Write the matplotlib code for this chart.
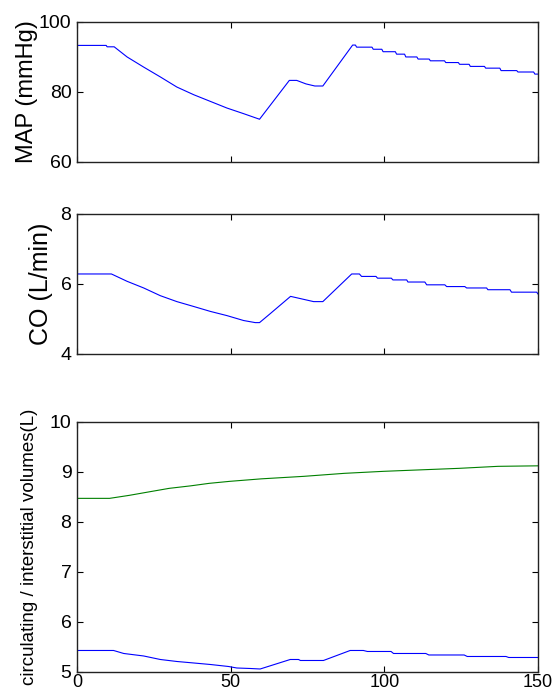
import matplotlib
matplotlib.use("Agg")
import matplotlib.pyplot as plt

plt.rcParams['font.family'] = ['Liberation Sans', 'DejaVu Sans']

# mean arterial pressure (mmHg)
map_t = [0, 9.5, 9.8, 12.1, 16.3, 21.7, 27.1, 32.5, 38, 43.4, 48.8, 54.2, 59.4, 69.1, 71.5, 74.5, 77.4, 80,
         89.7, 90.6, 91, 96, 96.4, 99.2, 99.6, 103.6, 104, 106.6, 107, 110.6, 111, 114.6, 115,
         119.6, 120, 124.1, 124.5, 127.6, 128, 132.6, 133, 137.6, 138, 143.1, 143.5, 148.6, 149, 150]
map_v = [93.3, 93.3, 92.9, 92.9, 90.0, 87.1, 84.3, 81.4, 79.2, 77.3, 75.4, 73.8, 72.2, 83.3, 83.3, 82.3, 81.7, 81.7,
         93.4, 93.4, 92.8, 92.8, 92.2, 92.2, 91.5, 91.5, 90.8, 90.8, 90.0, 90.0, 89.4, 89.4, 88.9,
         88.9, 88.4, 88.4, 87.9, 87.9, 87.3, 87.3, 86.8, 86.8, 86.1, 86.1, 85.7, 85.7, 85.1, 85.1]

# cardiac output (L/min)
co_t = [0, 11.2, 16.3, 21.7, 27.1, 32.5, 38, 43.4, 48.8, 54.2, 58, 59.4, 62.8, 69.5, 73, 77, 80,
        89.4, 91.9, 92.6, 97.3, 97.8, 102.3, 102.8, 107.3, 107.7, 113.2, 113.8, 119.7,
        120.3, 126.2, 126.8, 133.3, 133.7, 140.9, 141.4, 149.6, 150]
co_v = [6.28, 6.28, 6.07, 5.88, 5.66, 5.49, 5.35, 5.21, 5.09, 4.95, 4.89, 4.89, 5.14, 5.64, 5.57, 5.49, 5.49,
        6.28, 6.28, 6.21, 6.21, 6.16, 6.16, 6.11, 6.11, 6.05, 6.05, 5.97, 5.97,
        5.92, 5.92, 5.88, 5.88, 5.83, 5.83, 5.76, 5.76, 5.71]

# circulating volume (L)
vc_t = [0, 11.9, 15.2, 21.7, 27.1, 32.5, 38, 43.4, 49.3, 52, 56.4, 59.6, 69.4, 72.1, 72.7, 80.2, 88.9, 93.2,
        94.5, 102.2, 103, 113.5, 114.5, 126, 127, 139.6, 140.5, 150]
vc_v = [5.43, 5.43, 5.37, 5.32, 5.25, 5.21, 5.18, 5.15, 5.11, 5.08, 5.07, 5.06, 5.25, 5.25, 5.23, 5.23, 5.43, 5.43,
        5.41, 5.41, 5.37, 5.37, 5.34, 5.34, 5.31, 5.31, 5.29, 5.29]

# interstitial volume (L)
vi_t = [0, 10.6, 17, 24.4, 30, 37, 43, 49.7, 60, 73.8, 87, 99.7, 112, 124.4, 137, 150]
vi_v = [8.47, 8.47, 8.53, 8.61, 8.67, 8.72, 8.77, 8.81, 8.86, 8.91, 8.97, 9.01, 9.04, 9.07, 9.11, 9.12]

x_ticks = [0, 50, 100, 150]

fig = plt.figure(figsize=(5.54, 6.95), dpi=100)
ax1 = fig.add_axes([0.139, 0.767, 0.832, 0.2014])
ax2 = fig.add_axes([0.139, 0.491, 0.832, 0.2014])
ax3 = fig.add_axes([0.139, 0.0331, 0.832, 0.36])

ax1.plot(map_t, map_v, color=(0, 0, 1), lw=0.8)
ax2.plot(co_t, co_v, color=(0, 0, 1), lw=0.8)
ax3.plot(vi_t, vi_v, color=(0, 0.5, 0), lw=0.8)
ax3.plot(vc_t, vc_v, color=(0, 0, 1), lw=0.8)

ax1.set_ylim(60, 100)
ax1.set_yticks([60, 80, 100])
ax2.set_ylim(4, 8)
ax2.set_yticks([4, 6, 8])
ax3.set_ylim(5, 10)
ax3.set_yticks([5, 6, 7, 8, 9, 10])

for ax in (ax1, ax2, ax3):
    ax.set_xlim(0, 150)
    ax.set_xticks(x_ticks)
    ax.tick_params(direction='in', top=True, right=True, length=4, width=0.8, pad=4, labelsize=14)
    for s in ax.spines.values():
        s.set_linewidth(1.0)
        s.set_color('#222222')

for ax in (ax1, ax2):
    ax.set_xticklabels([])
ax3.tick_params(axis='x', pad=1.5, labelsize=13)

ax1.set_ylabel('MAP (mmHg)', fontsize=17)
ax2.set_ylabel('CO (L/min)', fontsize=18)
ax3.set_ylabel('circulating / interstitial volumes(L)', fontsize=13.5)
ax1.yaxis.set_label_coords(-0.085, 0.5)
ax2.yaxis.set_label_coords(-0.052, 0.5)
ax3.yaxis.set_label_coords(-0.084, 0.5)

fig.savefig('out.png', dpi=100)
